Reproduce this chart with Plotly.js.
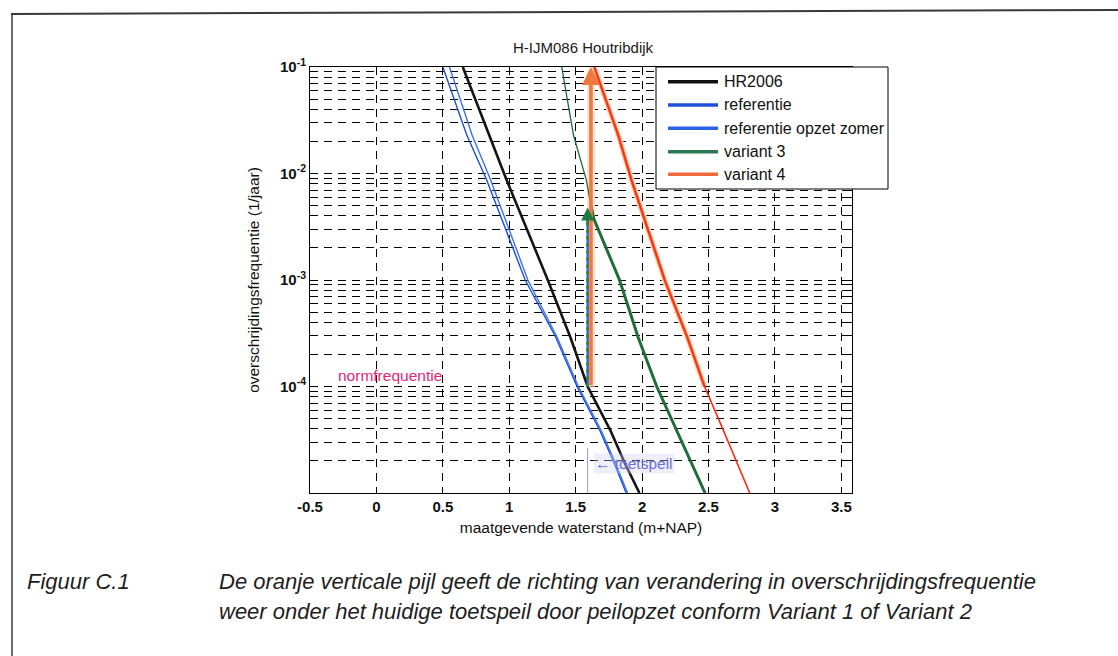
<!DOCTYPE html>
<html>
<head>
<meta charset="utf-8">
<script src="https://cdn.plot.ly/plotly-3.0.1.min.js"></script>
<style>
  html, body { margin: 0; padding: 0; background: #ffffff; }
  #chart { width: 1118px; height: 656px; }
</style>
</head>
<body>
<div id="chart"></div>
<script>
// ---- data: exceedance frequency (1/jaar) against maatgevende waterstand (m+NAP) ----
const seriesNames = ['HR2006', 'referentie', 'referentie opzet zomer', 'variant 3', 'variant 4'];

const freqHR2006  = [1e-1, 2.3e-2, 8.7e-3, 1.0e-3, 2.9e-4, 1.0e-4, 3.9e-5, 1.9e-5, 1e-5];
const levelHR2006 = [0.65, 0.85, 0.98, 1.29, 1.46, 1.59, 1.76, 1.87, 1.98];

const freqRef  = [1e-1, 2.3e-2, 8.7e-3, 1.0e-3, 2.9e-4, 1.0e-4, 3.9e-5, 1.9e-5, 1e-5];
const levelRef = [0.50, 0.68, 0.83, 1.12, 1.35, 1.51, 1.68, 1.79, 1.88];

const freqRefZomer  = [1e-1, 2.3e-2, 8.7e-3, 1.0e-3, 2.9e-4, 1.0e-4, 3.9e-5, 1.9e-5, 1e-5];
const levelRefZomer = [0.55, 0.72, 0.86, 1.14, 1.36, 1.52, 1.69, 1.80, 1.89];

const freqVar3  = [1e-1, 2.3e-2, 8.7e-3, 5.0e-3, 3.8e-3, 1.0e-3, 2.9e-4, 1.0e-4, 3.9e-5, 1.9e-5, 1e-5];
const levelVar3 = [1.395, 1.483, 1.58, 1.615, 1.635, 1.83, 1.97, 2.11, 2.26, 2.374, 2.474];
const var3KinkIndex = 3;          // from here on the curve is drawn heavy

const freqVar4  = [1e-1, 2.3e-2, 8.7e-3, 1.0e-3, 2.9e-4, 1.0e-4, 4.2e-5, 1.5e-5, 1e-5];
const levelVar4 = [1.64, 1.82, 1.92, 2.17, 2.34, 2.47, 2.60, 2.75, 2.81];
const var4NormIndex = 5;          // point on the normfrequentie

const normFrequentie = 1e-4;      // 1/jaar
const toetspeil = 1.6;            // m+NAP
const var3ArrowTipFreq = 4.8e-3;  // toetspeil meets variant 3
const topFreq = 1e-1;

const xTickVals = [-0.5, 0, 0.5, 1, 1.5, 2, 2.5, 3, 3.5];
const xTickText = ['-0.5', '0', '0.5', '1', '1.5', '2', '2.5', '3', '3.5'];
const yTickVals = [1e-4, 1e-3, 1e-2, 1e-1];
const yTickText = ['10<sup>-4</sup>', '10<sup>-3</sup>', '10<sup>-2</sup>', '10<sup>-1</sup>'];

// 2..9 subdivisions of every decade for the minor grid
const yMinorVals = [];
for (let k = -5; k <= -2; k++) {
  for (let d = 2; d <= 9; d++) yMinorVals.push(d * Math.pow(10, k));
}

// ---- plot frame in pixels, helpers to place layout items ----
const L = 310, R = 852, T = 67, B = 493;
const fx = px => (px - L) / (R - L);
const fy = py => (B - py) / (B - T);
const lg = Math.log10;

const FONT = 'Liberation Sans, Arial, sans-serif';
const C = {
  black: '#151515', blue1: '#1d4fd6', blue2: '#3c72e8',
  green: '#1f6d38', red: '#ff2a12', orange: '#f3783f', halo: '#fde3d2',
  norm: '#d8387f', toets: '#6a6fd8'
};

const traces = [
  // pale halo + orange highlight along variant 4 above the norm
  { x: levelVar4.slice(0, var4NormIndex + 1), y: freqVar4.slice(0, var4NormIndex + 1),
    mode: 'lines', line: { color: C.halo, width: 6 }, hoverinfo: 'skip', showlegend: false },
  { x: [toetspeil + 0.015, toetspeil + 0.015], y: [normFrequentie, topFreq * 0.93],
    mode: 'lines', line: { color: C.halo, width: 8 }, hoverinfo: 'skip', showlegend: false },
  { x: levelHR2006, y: freqHR2006, name: seriesNames[0], mode: 'lines',
    line: { color: C.black, width: 2.6 } },
  { x: levelRef, y: freqRef, name: seriesNames[1], mode: 'lines',
    line: { color: C.blue1, width: 1.4 } },
  { x: levelRefZomer, y: freqRefZomer, name: seriesNames[2], mode: 'lines',
    line: { color: C.blue2, width: 1.4 } },
  { x: levelVar3.slice(0, var3KinkIndex + 1), y: freqVar3.slice(0, var3KinkIndex + 1),
    name: seriesNames[3], mode: 'lines', line: { color: C.green, width: 1.3 } },
  { x: levelVar3.slice(var3KinkIndex), y: freqVar3.slice(var3KinkIndex),
    name: seriesNames[3], mode: 'lines', line: { color: C.green, width: 3 }, showlegend: false },
  { x: levelVar4.slice(0, var4NormIndex + 1), y: freqVar4.slice(0, var4NormIndex + 1),
    mode: 'lines', line: { color: C.orange, width: 3.2 }, hoverinfo: 'skip', showlegend: false },
  { x: levelVar4, y: freqVar4, name: seriesNames[4], mode: 'lines',
    line: { color: C.red, width: 1.6 } },
  // dotted toetspeil arrow shaft (blue under green dots)
  { x: [toetspeil - 0.01, toetspeil - 0.01], y: [normFrequentie, var3ArrowTipFreq * 0.8],
    mode: 'lines', line: { color: '#2f62e0', width: 2.4 }, hoverinfo: 'skip', showlegend: false },
  { x: [toetspeil - 0.01, toetspeil - 0.01], y: [normFrequentie, var3ArrowTipFreq * 0.8],
    mode: 'lines', line: { color: '#1f8a45', width: 3, dash: '3px,4px' }, hoverinfo: 'skip', showlegend: false }
];

// ---- hand-built legend (box, samples, labels) ----
const legendBox = { x0: 656, x1: 888, y0: 67, y1: 189 };
const legendRows = [81.7, 105, 128.3, 151.7, 174.3];
const legendColors = ['#111111', '#1f4fd8', '#2b62e6', '#2d7a52', '#f06a3a'];

const shapes = [
  // normfrequentie line and its small left bracket
  { type: 'line', xref: 'paper', x0: 0, x1: 1, yref: 'y', y0: lg(normFrequentie), y1: lg(normFrequentie),
    line: { color: C.norm, width: 1.5 }, layer: 'above' },
  { type: 'line', xref: 'paper', x0: 0.002, x1: 0.002, yref: 'y',
    y0: lg(normFrequentie), y1: lg(normFrequentie) + 0.2, line: { color: C.norm, width: 1.5 } },
  // thin toetspeil marker near the bottom
  { type: 'line', xref: 'x', x0: toetspeil - 0.01, x1: toetspeil - 0.01, yref: 'paper',
    y0: 0, y1: fy(448), line: { color: '#8f9be0', width: 1 } },
  { type: 'rect', xref: 'paper', yref: 'paper', x0: fx(legendBox.x0), x1: fx(legendBox.x1),
    y0: fy(legendBox.y1), y1: fy(legendBox.y0), fillcolor: '#ffffff',
    line: { color: '#000000', width: 1 }, layer: 'above' },
  // page frame
  { type: 'line', xref: 'paper', yref: 'paper', x0: fx(11), y0: fy(14), x1: fx(1118), y1: fy(10),
    line: { color: '#3a3a3a', width: 2 } },
  { type: 'line', xref: 'paper', yref: 'paper', x0: fx(12), y0: fy(13), x1: fx(12), y1: fy(656),
    line: { color: '#3a3a3a', width: 1.5 } }
];
legendRows.forEach((py, i) => {
  shapes.push({ type: 'line', xref: 'paper', yref: 'paper', x0: fx(668), x1: fx(718),
    y0: fy(py), y1: fy(py), line: { color: legendColors[i], width: 3.5 }, layer: 'above' });
});

const capFont = { family: FONT, size: 22, style: 'italic', color: '#1e1e1e' };
const annotations = [
  { text: 'H-IJM086 Houtribdijk', xref: 'paper', yref: 'paper', x: fx(583), y: fy(48),
    yanchor: 'middle', showarrow: false, font: { family: FONT, size: 15, color: '#1a1a1a' } },
  { text: 'normfrequentie', xref: 'paper', yref: 'paper', x: fx(336), y: fy(376),
    xanchor: 'left', yanchor: 'middle', showarrow: false,
    font: { family: FONT, size: 15.5, color: '#e0287a' } },
  { text: '\u2190 toetspeil', xref: 'paper', yref: 'paper', x: fx(593), y: fy(463),
    xanchor: 'left', yanchor: 'middle', showarrow: false, bgcolor: 'rgba(205,210,240,0.35)',
    font: { family: FONT, size: 15.5, color: C.toets } },
  // orange arrow: direction of change at the toetspeil
  { x: toetspeil + 0.015, y: lg(topFreq), ax: toetspeil + 0.015, ay: lg(normFrequentie),
    xref: 'x', yref: 'y', axref: 'x', ayref: 'y', text: '', showarrow: true,
    arrowhead: 2, arrowsize: 1, arrowwidth: 3.6, arrowcolor: C.orange },
  // green arrow head at the end of the dotted shaft
  { x: toetspeil - 0.01, y: lg(var3ArrowTipFreq), ax: toetspeil - 0.01, ay: lg(var3ArrowTipFreq * 0.7),
    xref: 'x', yref: 'y', axref: 'x', ayref: 'y', text: '', showarrow: true,
    arrowhead: 2, arrowsize: 1, arrowwidth: 2.6, arrowcolor: '#1f7a45' },
  // caption
  { text: 'Figuur C.1', xref: 'paper', yref: 'paper', x: fx(25), y: fy(581),
    xanchor: 'left', yanchor: 'middle', showarrow: false, font: capFont },
  { text: 'De oranje verticale pijl geeft de richting van verandering in overschrijdingsfrequentie',
    xref: 'paper', yref: 'paper', x: fx(217), y: fy(581), xanchor: 'left', yanchor: 'middle',
    showarrow: false, font: capFont },
  { text: 'weer onder het huidige toetspeil door peilopzet conform Variant 1 of Variant 2',
    xref: 'paper', yref: 'paper', x: fx(217), y: fy(611), xanchor: 'left', yanchor: 'middle',
    showarrow: false, font: capFont }
];
seriesNames.forEach((name, i) => {
  annotations.push({ text: name, xref: 'paper', yref: 'paper', x: fx(722), y: fy(legendRows[i]),
    xanchor: 'left', yanchor: 'middle', showarrow: false,
    font: { family: FONT, size: 16, color: '#111111' } });
});

const gridStyle = { showgrid: true, gridcolor: '#000000', gridwidth: 1, griddash: '8px,6px' };

const layout = {
  width: 1118, height: 656,
  margin: { l: L, r: 1118 - R, t: T, b: 656 - B, pad: 0 },
  paper_bgcolor: '#ffffff', plot_bgcolor: '#ffffff',
  showlegend: false,
  font: { family: FONT, color: '#111111' },
  xaxis: Object.assign({
    range: [-0.5, 3.58], tickvals: xTickVals, ticktext: xTickText,
    zeroline: false, showline: true, linecolor: '#000000', linewidth: 1, mirror: 'allticks',
    ticks: 'inside', ticklen: 5, tickcolor: '#000000',
    tickfont: { family: FONT, size: 15, weight: 'bold', color: '#111111' },
    title: { text: 'maatgevende waterstand (m+NAP)', standoff: 8,
             font: { family: FONT, size: 15.5, color: '#111111' } }
  }, gridStyle),
  yaxis: Object.assign({
    type: 'log', range: [-5, -1], tickvals: yTickVals, ticktext: yTickText,
    zeroline: false, showline: true, linecolor: '#000000', linewidth: 1, mirror: 'allticks',
    ticks: 'inside', ticklen: 5, tickcolor: '#000000',
    tickfont: { family: FONT, size: 15, weight: 'bold', color: '#111111' },
    minor: Object.assign({ tickvals: yMinorVals, ticks: 'inside', ticklen: 3, tickcolor: '#000000' }, gridStyle),
    title: { text: 'overschrijdingsfrequentie (1/jaar)', standoff: 16,
             font: { family: FONT, size: 15.5, color: '#111111' } }
  }, gridStyle),
  shapes: shapes,
  annotations: annotations
};

Plotly.newPlot('chart', traces, layout, { staticPlot: true, displayModeBar: false });
</script>
</body>
</html>
